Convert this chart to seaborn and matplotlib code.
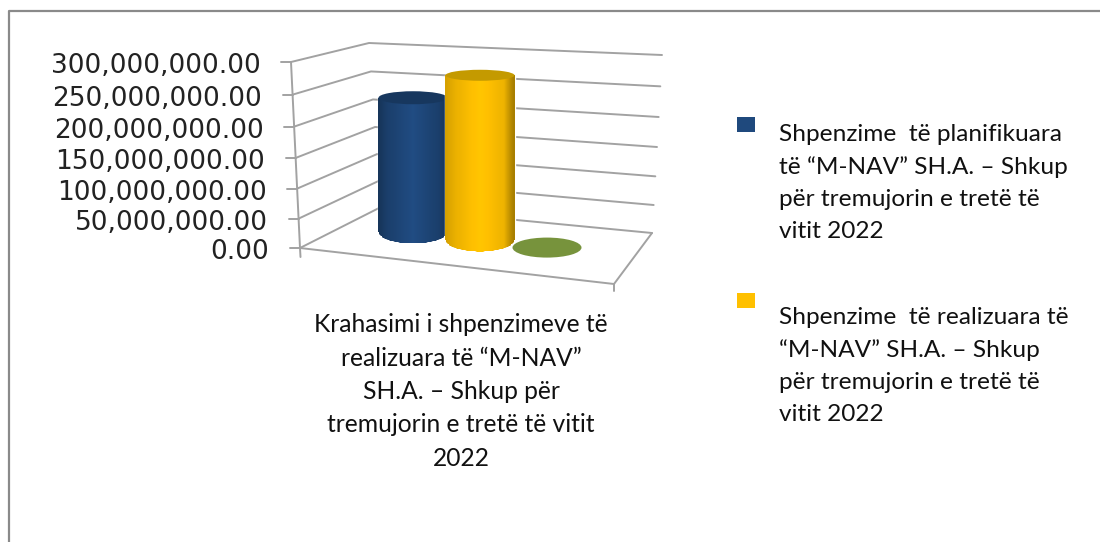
import numpy as np
import matplotlib
matplotlib.use("Agg")
import matplotlib.pyplot as plt
import seaborn as sns
from matplotlib.patches import Ellipse, Patch
from matplotlib.path import Path
from matplotlib.ticker import FixedLocator, FuncFormatter
from matplotlib.transforms import Affine2D
from matplotlib.colors import to_rgb

# ---- data ----
series_names = [
    "Shpenzime  të planifikuara\ntë “M-NAV” SH.A. – Shkup\npër tremujorin e tretë të\nvitit 2022",
    "Shpenzime  të realizuara të\n“M-NAV” SH.A. – Shkup\npër tremujorin e tretë të\nvitit 2022",
    "Seria 3",
]
series_values = [228_000_000, 280_000_000, 0]
series_colors = ["#1F497D", "#FFC000", "#77933C"]
value_ticks = [0, 50_000_000, 100_000_000, 150_000_000, 200_000_000, 250_000_000, 300_000_000]
category_label = "Krahasimi i shpenzimeve të\nrealizuara të “M-NAV”\nSH.A. – Shkup për\ntremujorin e tretë të vitit\n2022"

W, H = 1100, 542
VMAX = 300_000_000
sns.set_theme(style="white")
plt.rcParams["font.family"] = ["Lato", "DejaVu Sans"]

fig = plt.figure(figsize=(W / 100, H / 100), dpi=100, facecolor="white")


def box(l, t, r, b):
    return [l / W, 1 - b / H, (r - l) / W, (b - t) / H]


# pixel-coordinate backdrop for the pseudo-3D walls
bg = fig.add_axes([0, 0, 1, 1], zorder=0)
bg.set_xlim(0, W)
bg.set_ylim(H, 0)
bg.axis("off")
bg.plot([9, 9, W + 5], [H + 5, 11, 11], color="#8A8A8A", lw=1.6, clip_on=False)


def wall(t, x0, dx, y0, dy, c):
    return x0 + dx * t, y0 - dy * t + c * t * (1 - t)


GRID = "#A2A2A2"
LW = 1.4
for v in value_ticks:
    t = v / VMAX
    fx, fy = wall(t, 300, -9, 248, 186, 12)
    lx, ly = wall(t, 381, -12, 207, 164, 8)
    rx, ry = wall(t, 652, 10, 233, 178, 12)
    bg.plot([fx, lx, rx], [fy, ly, ry], color=GRID, lw=LW, solid_joinstyle="miter")
    bg.plot([fx - 10, fx], [fy, fy], color=GRID, lw=LW)
bg.plot([291, 300, 300.5], [62, 248, 257], color=GRID, lw=LW)
bg.plot([300, 614, 652], [248, 284, 233], color=GRID, lw=LW)
bg.plot([614, 614], [284, 291], color=GRID, lw=LW)

# value axis (perspective-spaced ticks along the left edge)
A = 12 / 186


def fwd(v):
    t = np.asarray(v, dtype=float) / VMAX
    return (1 - A) * t + A * t * t


def inv(y):
    y = np.asarray(y, dtype=float)
    return VMAX * (-(1 - A) + np.sqrt(np.maximum((1 - A) ** 2 + 4 * A * y, 0))) / (2 * A)


axv = fig.add_axes(box(300, 63, 360, 249), zorder=1)
axv.patch.set_alpha(0)
axv.set_yscale("function", functions=(fwd, inv))
axv.set_ylim(0, VMAX)
axv.set_xticks([])
axv.yaxis.set_major_locator(FixedLocator(value_ticks))
axv.yaxis.set_major_formatter(FuncFormatter(lambda v, _: f"{v:,.2f}"))
axv.yaxis.set_minor_locator(FixedLocator([]))
for s in axv.spines.values():
    s.set_visible(False)
axv.tick_params(axis="y", length=0, labelsize=19, labelcolor="#222222")
for tick, v in zip(axv.yaxis.get_major_ticks(), value_ticks):
    right = 269.5 - 9 * v / VMAX
    tick.set_pad((300 - right) * 0.72)
    tick.label1.set_fontfamily("DejaVu Sans")

# bars, drawn through seaborn
PITCH = 67
ax = fig.add_axes(box(413 - PITCH / 2, 55.5, 413 + 2.5 * PITCH, 231.5), zorder=2)
ax.patch.set_alpha(0)
sns.barplot(x=series_names, y=series_values, hue=series_names, palette=series_colors,
            order=series_names, hue_order=series_names, dodge=False, width=1.03,
            legend=False, ax=ax, saturation=1)
ax.set_xlim(-0.5, 2.5)
ax.set_ylim(0, VMAX)
ax.set_yticks([])
ax.set_xticks([])
ax.set_ylabel("")
for s in ax.spines.values():
    s.set_visible(False)


def shade(col, stops):
    base = np.array(to_rgb(col))
    xs = [p for p, _ in stops]
    fs = [f for _, f in stops]
    u = np.linspace(0, 1, 64)
    return np.clip(base[None, :] * np.interp(u, xs, fs)[:, None], 0, 1)


stops = {
    0: [(0, .72), (.12, .85), (.5, 1.04), (.88, .85), (1, .72)],
    1: [(0, .84), (.15, .92), (.5, 1.03), (.85, .93), (.96, .72), (1, .66)],
}
cap_colors = {0: "#17375E", 1: "#C49A00"}
bg_to_disp = bg.transData
for i, (bar, val, col) in enumerate(zip(ax.patches, series_values, series_colors)):
    x0, _ = ax.transData.transform((bar.get_x(), 0))
    x1, _ = ax.transData.transform((bar.get_x() + bar.get_width(), 0))
    cx, rx = (x0 + x1) / 2, (x1 - x0) / 2
    base_y = 231.5 + 0.12 * (cx - 413)
    # move every cylinder down onto the slanted floor
    bar.set_transform(ax.transData + Affine2D().translate(0, -(base_y - 231.5)))
    bar.set_clip_on(False)
    bar.set_zorder(3 + 2 * i)
    if val == 0:
        ax.add_patch(Ellipse((cx, base_y), 2 * rx, 20, facecolor=col, edgecolor="none",
                             transform=bg_to_disp, clip_on=False, zorder=3 + 2 * i))
        bar.set_visible(False)
        continue
    top_y = base_y - (231.5 - 55.5) * val / VMAX
    theta = np.linspace(0, np.pi, 60)
    poly = np.vstack([
        np.column_stack([cx + rx * np.cos(theta), base_y + 12 * np.sin(theta)]),
        [[cx - rx, top_y], [cx + rx, top_y], [cx + rx, base_y]],
    ])
    xe = np.linspace(cx - rx, cx + rx, 65)
    ye = np.array([top_y - 1, base_y + 13])
    mesh = ax.pcolormesh(xe, ye, shade(col, stops[i])[None, :, :], transform=bg_to_disp,
                         zorder=3 + 2 * i + 0.2)
    mesh.set_clip_box(None)
    mesh.set_clip_path(Path(poly, closed=False), bg_to_disp)
    ax.add_patch(Ellipse((cx, top_y), 2 * rx, 11 if i else 13, facecolor=cap_colors[i],
                         edgecolor="none", transform=bg_to_disp, clip_on=False,
                         zorder=3 + 2 * i + 0.4))
ax.set_xlim(-0.5, 2.5)
ax.set_ylim(0, VMAX)

# category label
ax.set_xlabel(category_label, fontsize=17.7, color="#111111", linespacing=1.54,
              ha="center", va="top")
ax.xaxis.set_label_coords(461, 313.5, transform=bg.transData)

# legend
handles = [Patch(facecolor=c, edgecolor="none") for c in series_colors[:2]]
FS = 17.6
px = FS * 100 / 72
leg = fig.legend(handles, series_names[:2], loc="upper left", bbox_to_anchor=(737 / W, 1 - 124 / H),
                 frameon=False, borderpad=0, borderaxespad=0, fontsize=FS,
                 handlelength=18 / px, handleheight=14 / px, handletextpad=24 / px,
                 labelspacing=2.69, labelcolor="#111111")
for t in leg.get_texts():
    t.set_linespacing(1.63)
for hp in leg._legend_handle_box.get_children()[0].get_children():
    hp.align = "top"
leg.legend_handles[0].set_y(leg.legend_handles[0].get_y() + 5)
leg.legend_handles[1].set_y(leg.legend_handles[1].get_y() + 10)

fig.savefig("out.png", dpi=100, facecolor="white")
